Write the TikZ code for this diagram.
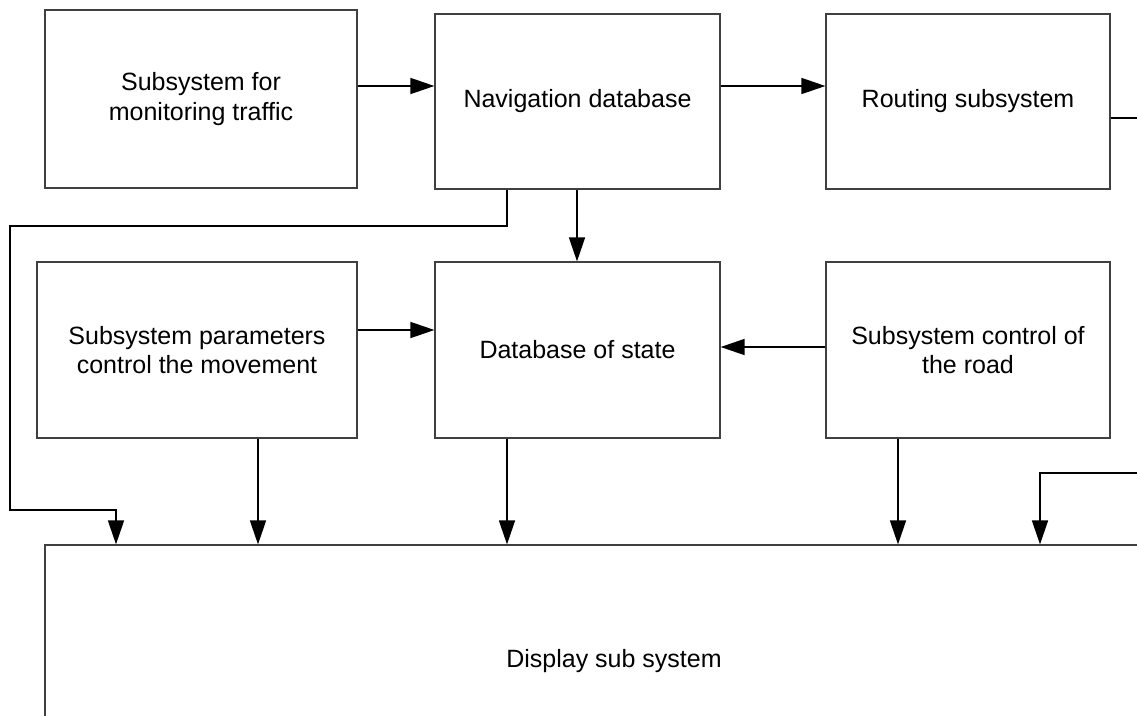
\documentclass[tikz,border=0pt]{standalone}
\usepackage{fontspec}
\setmainfont{Liberation Sans}
\usetikzlibrary{arrows.meta,calc}
\begin{document}
\begin{tikzpicture}[x=1pt,y=-1pt,
  blk/.style={draw=black!75,line width=1.2pt,rectangle,align=center,inner sep=0pt,
    font=\fontsize{25}{29.5}\selectfont},
  arr/.style={draw=black,line width=1.5pt,-{Triangle[length=24pt,width=16pt]}},
  ln/.style={draw=black,line width=1.5pt}]
\useasboundingbox (0,0) rectangle (1137,715);
\clip (0,0) rectangle (1137,715);
\node[blk,minimum width=312pt,minimum height=178pt] (b1) at (201,99) {Subsystem for\\monitoring traffic};
\node[blk,minimum width=285pt,minimum height=175pt] (b2) at (577.5,101.5) {Navigation database};
\node[blk,minimum width=284pt,minimum height=175pt] (b3) at (968,101.5) {Routing subsystem};
\node[blk,minimum width=320pt,minimum height=176pt] (b4) at (197,350) {Subsystem parameters\\control the movement};
\node[blk,minimum width=285pt,minimum height=176pt] (b5) at (577.5,350) {Database of state};
\node[blk,minimum width=284pt,minimum height=176pt] (b6) at (968,350) {Subsystem control of\\the road};
\node[blk,minimum width=1138pt,minimum height=232pt] (d) at (614,661) {Display sub system};
\coordinate (routeout) at (1137,118);
\coordinate (feedin) at (1137,473);
% top row
\draw[arr] (b1.east |- 0,86) -- (b2.west |- 0,86);
\draw[arr] (b2.east |- 0,86) -- (b3.west |- 0,86);
\draw[ln] (b3.east |- routeout) -- (routeout);
% nav db down
\draw[arr] (b2.south -| 577,0) -- (b5.north -| 577,0);
\draw[arr] (b2.south -| 507,0) -- (507,226) -- (10,226) -- (10,510) -- (116,510) -- (d.north -| 116,0);
% middle row
\draw[arr] (b4.east |- 0,330) -- (b5.west |- 0,330);
\draw[arr] (b6.west |- 0,347) -- (b5.east |- 0,347);
% to display
\draw[arr] (b4.south -| 258,0) -- (d.north -| 258,0);
\draw[arr] (b5.south -| 507,0) -- (d.north -| 507,0);
\draw[arr] (b6.south -| 898,0) -- (d.north -| 898,0);
\draw[arr] (feedin) -- (1040,473) -- (d.north -| 1040,0);
\end{tikzpicture}
\end{document}
